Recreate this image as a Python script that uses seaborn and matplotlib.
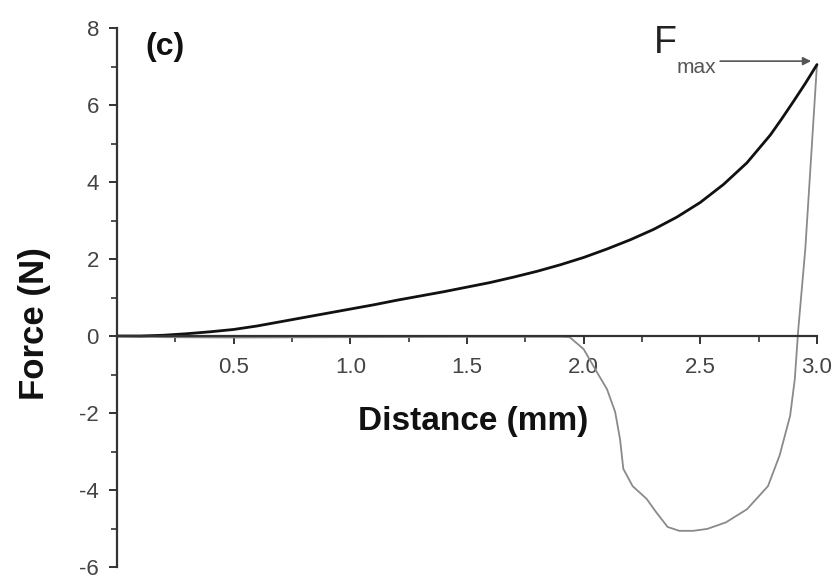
import numpy as np
import pandas as pd
import matplotlib
matplotlib.use("Agg")
import matplotlib.pyplot as plt
from matplotlib.ticker import MultipleLocator, FixedLocator
import seaborn as sns

# Loading branch (indentation)
load_distance = [0.0, 0.1, 0.2, 0.3, 0.4, 0.5, 0.6, 0.7, 0.8, 0.9, 1.0,
                 1.1, 1.2, 1.3, 1.4, 1.5, 1.6, 1.7, 1.8, 1.9, 2.0,
                 2.1, 2.2, 2.3, 2.4, 2.5, 2.6, 2.7, 2.8, 2.85, 2.9, 2.95, 3.0]
load_force = [0.0, 0.0, 0.02, 0.06, 0.11, 0.17, 0.26, 0.37, 0.48, 0.59, 0.70,
              0.81, 0.93, 1.04, 1.15, 1.27, 1.39, 1.53, 1.68, 1.85, 2.04,
              2.26, 2.50, 2.77, 3.09, 3.47, 3.94, 4.50, 5.22, 5.65, 6.10, 6.56, 7.05]

# Unloading branch (withdrawal)
unload_distance = [3.0, 2.95, 2.92, 2.905, 2.885, 2.84, 2.79, 2.70, 2.61, 2.53,
                   2.47, 2.41, 2.36, 2.31, 2.27, 2.21, 2.17, 2.156, 2.135, 2.10,
                   2.057, 2.0, 1.94, 1.9, 1.5, 1.0, 0.5, 0.2, 0.0]
unload_force = [7.05, 2.26, 0.18, -1.12, -2.07, -3.10, -3.90, -4.50, -4.84, -5.01,
                -5.06, -5.06, -4.96, -4.57, -4.23, -3.90, -3.45, -2.68, -1.97, -1.38,
                -0.94, -0.34, -0.03, -0.02, -0.02, -0.03, -0.04, -0.03, 0.0]

x_ticks = [0.5, 1.0, 1.5, 2.0, 2.5, 3.0]
x_tick_labels = ["0.5", "1.0", "1.5", "2.0", "2.5", "3.0"]
y_ticks = [-6, -4, -2, 0, 2, 4, 6, 8]
y_tick_labels = ["-6", "-4", "-2", "0", "2", "4", "6", "8"]

load_df = pd.DataFrame({"Distance": load_distance, "Force": load_force})
unload_df = pd.DataFrame({"Distance": unload_distance, "Force": unload_force})

sns.set_theme(style="ticks")
plt.rcParams["font.family"] = ["Liberation Sans", "DejaVu Sans"]

fig = plt.figure(figsize=(8.38, 5.8), dpi=100)
ax = fig.add_axes([0.1396, 0.0224, 0.8353, 0.9293])

sns.lineplot(data=unload_df, x="Distance", y="Force", ax=ax, sort=False,
             estimator=None, color="#8a8a8a", linewidth=1.3, clip_on=False)
sns.lineplot(data=load_df, x="Distance", y="Force", ax=ax, sort=False,
             estimator=None, color="#111111", linewidth=2.0, clip_on=False)

ax.set_xlim(0, 3.0)
ax.set_ylim(-6, 8)

ax.spines["left"].set_position(("data", 0))
ax.spines["bottom"].set_position(("data", 0))
ax.spines["top"].set_visible(False)
ax.spines["right"].set_visible(False)
for s in ("left", "bottom"):
    ax.spines[s].set_color("#333333")
    ax.spines[s].set_linewidth(1.6)

ax.xaxis.set_major_locator(FixedLocator(x_ticks))
ax.set_xticklabels(x_tick_labels)
ax.xaxis.set_minor_locator(MultipleLocator(0.25))
ax.yaxis.set_major_locator(FixedLocator(y_ticks))
ax.set_yticklabels(y_tick_labels)
ax.yaxis.set_minor_locator(MultipleLocator(1))

ax.tick_params(axis="both", which="major", direction="out", length=6, width=1.4,
               color="#333333", labelsize=16, labelcolor="#444444")
ax.tick_params(axis="both", which="minor", direction="out", length=4, width=1.2,
               color="#333333")
ax.tick_params(axis="x", which="major", pad=9)
ax.tick_params(axis="y", which="major", pad=7)

ax.set_xlabel("Distance (mm)", fontsize=24, fontweight="bold", color="#111111")
ax.xaxis.set_label_coords((473 - 117) / 700, (567 - 406) / 539)
ax.set_ylabel("Force (N)", fontsize=25, fontweight="bold", color="#111111")
ax.yaxis.label.set_va("center")
ax.yaxis.set_label_coords((35 - 117) / 700, (567 - 324) / 539)

ax.text(0.12, 7.5, "(c)", fontsize=23, fontweight="bold", color="#111111",
        ha="left", va="center")

ax.text(2.30, 7.62, "F", fontsize=27, color="#222222", ha="left", va="center")
ax.text(2.40, 6.98, "max", fontsize=15, color="#555555", ha="left", va="center")
ax.annotate("", xy=(2.975, 7.14), xytext=(2.585, 7.14),
            arrowprops=dict(arrowstyle="-|>", color="#555555", lw=1.2,
                            mutation_scale=12, shrinkA=0, shrinkB=0))

fig.savefig("out.png", dpi=100)
